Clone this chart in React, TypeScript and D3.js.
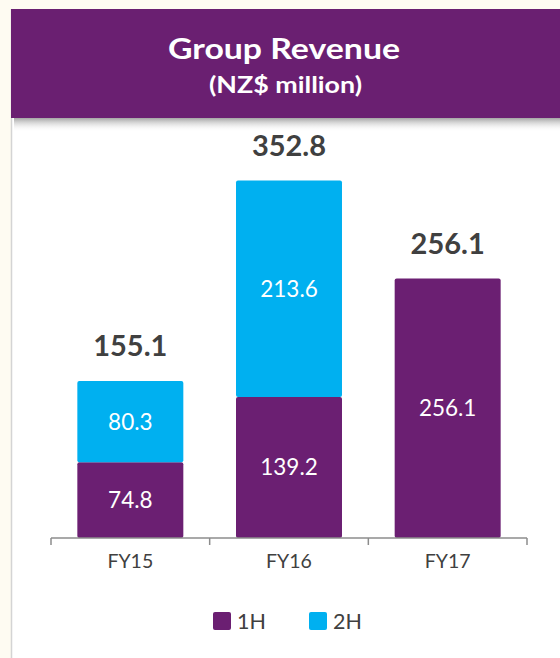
import React from "react";
import * as d3 from "d3";

const categories = ["FY15", "FY16", "FY17"];
const firstHalf = [74.8, 139.2, 256.1];
const secondHalf = [80.3, 213.6, 0];
const totals = [155.1, 352.8, 256.1];
const seriesNames = ["1H", "2H"];
const seriesColors = ["#6B1F72", "#00B0F0"];

const W = 560;
const H = 658;
const FONT = "Lato, 'Open Sans', sans-serif";

export default function App() {
  const x = d3
    .scaleBand<string>()
    .domain(categories)
    .range([51, 527])
    .paddingInner(0.332)
    .paddingOuter(0.166);
  const y = d3.scaleLinear().domain([0, 400]).range([538, 132.8]);

  const step = x.step();
  const tickXs = [0, 1, 2, 3].map((i) => 51 + i * step);

  const stacks = categories.map((c, i) => {
    const segs = [
      { v: firstHalf[i], y0: 0, y1: firstHalf[i], color: seriesColors[0] },
      {
        v: secondHalf[i],
        y0: firstHalf[i],
        y1: firstHalf[i] + secondHalf[i],
        color: seriesColors[1],
      },
    ].filter((s) => s.v > 0);
    return { c, segs, total: totals[i] };
  });

  return (
    <svg
      width={W}
      height={H}
      style={{ position: "absolute", left: 0, top: 0 }}
      xmlns="http://www.w3.org/2000/svg"
    >
      <defs>
        <linearGradient id="shadow" x1="0" y1="0" x2="0" y2="1">
          <stop offset="0" stopColor="#9a9a9a" stopOpacity="0.9" />
          <stop offset="1" stopColor="#ffffff" stopOpacity="0" />
        </linearGradient>
      </defs>
      <rect x={0} y={0} width={W} height={H} fill="#FEFBF2" />
      <rect x={12} y={9} width={W - 12} height={H - 9} fill="#ffffff" />
      <line x1={11.5} y1={9} x2={11.5} y2={H} stroke="#D4D4D4" strokeWidth={1.5} />
      <rect x={14} y={118} width={W - 14} height={14} fill="url(#shadow)" />
      <rect x={11} y={9} width={W - 11} height={109} fill="#6A1F71" />
      <text
        x={168}
        y={58.5}
        textLength={232}
        lengthAdjust="spacingAndGlyphs"
        fill="#ffffff"
        fontFamily={FONT}
        fontWeight={700}
        fontSize={29}
      >
        Group Revenue
      </text>
      <text
        x={209}
        y={93}
        textLength={153}
        lengthAdjust="spacingAndGlyphs"
        fill="#ffffff"
        fontFamily={FONT}
        fontWeight={700}
        fontSize={22}
      >
        (NZ$ million)
      </text>

      {stacks.map((s) => (
        <g key={s.c}>
          {s.segs.map((seg, j) => (
            <g key={j}>
              <rect
                x={x(s.c)}
                y={y(seg.y1)}
                width={x.bandwidth()}
                height={y(seg.y0) - y(seg.y1)}
                fill={seg.color}
                rx={2}
              />
              <text
                x={(x(s.c) as number) + x.bandwidth() / 2}
                y={(y(seg.y0) + y(seg.y1)) / 2 + 8}
                textAnchor="middle"
                fill="#ffffff"
                fontFamily={FONT}
                fontSize={22.5}
              >
                {seg.v.toFixed(1)}
              </text>
            </g>
          ))}
          <text
            x={(x(s.c) as number) + x.bandwidth() / 2}
            y={y(s.total) - 25}
            textAnchor="middle"
            fill="#404040"
            fontFamily={FONT}
            fontWeight={700}
            fontSize={29}
          >
            {s.total.toFixed(1)}
          </text>
        </g>
      ))}

      <line x1={51} y1={538} x2={527} y2={538} stroke="#8C8C8C" strokeWidth={1.5} />
      {tickXs.map((tx, i) => (
        <line key={i} x1={tx} y1={538} x2={tx} y2={545} stroke="#8C8C8C" strokeWidth={1.5} />
      ))}
      {categories.map((c) => (
        <text
          key={c}
          x={(x(c) as number) + x.bandwidth() / 2}
          y={568}
          textAnchor="middle"
          fill="#404040"
          fontFamily={FONT}
          fontSize={19.5}
        >
          {c}
        </text>
      ))}

      {seriesNames.map((n, i) => {
        const lx = 213 + i * 96;
        return (
          <g key={n}>
            <rect x={lx} y={612} width={18} height={18} rx={2} fill={seriesColors[i]} />
            <text
              x={lx + 24}
              y={629}
              fill="#404040"
              fontFamily={FONT}
              fontSize={21.5}
            >
              {n}
            </text>
          </g>
        );
      })}
    </svg>
  );
}
